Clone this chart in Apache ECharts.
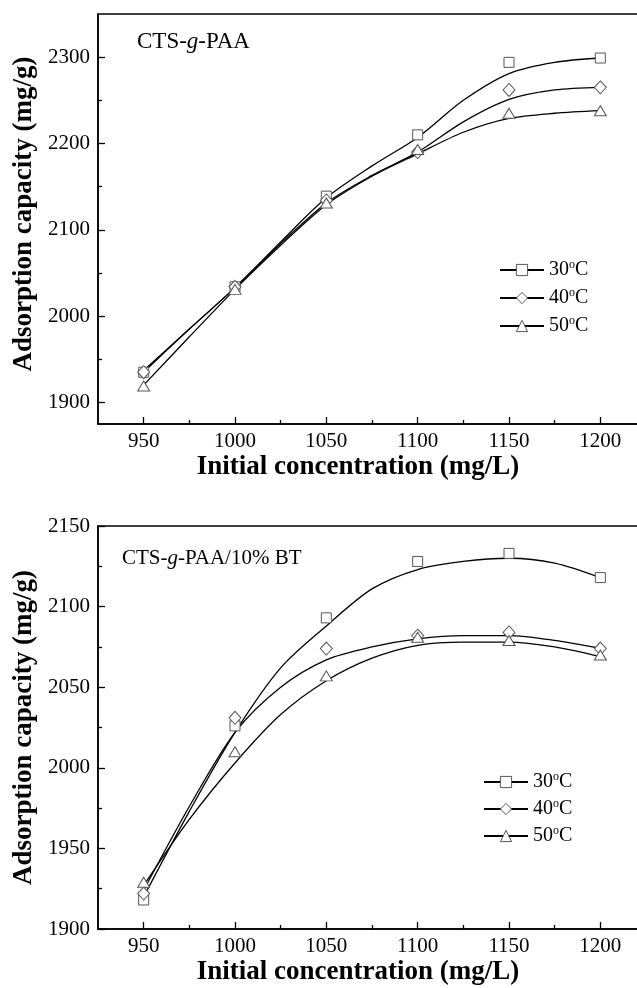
<!DOCTYPE html>
<html>
<head>
<meta charset="utf-8">
<script src="https://cdn.jsdelivr.net/npm/echarts@6/dist/echarts.min.js"></script>
<style>html,body{margin:0;padding:0;background:#fff}#c{width:637px;height:988px}</style>
</head>
<body>
<div id="c"></div>
<script>
// ---- data ----
const xCats = [950, 1000, 1050, 1100, 1150, 1200];           // measured concentrations
const fitX = [950, 975, 1000, 1025, 1050, 1075, 1100, 1125, 1150, 1175, 1200]; // where fitted curves were read
const xMajorTicks = [950, 1000, 1050, 1100, 1150, 1200];
const xMinorTicks = [975, 1025, 1075, 1125, 1175];
const topYLabels = [1900, 2000, 2100, 2200, 2300];
const topYMinor = [1950, 2050, 2150, 2250];
const temps = ['30', '40', '50'];

// top panel: CTS-g-PAA (measured points)
const topPts30 = [1935, 2034, 2139, 2210, 2294, 2299];
const topPts40 = [1935, 2034, 2134, 2190, 2262, 2265];
const topPts50 = [1919, 2031, 2131, 2193, 2235, 2238];
// top panel fitted curves, read at fitX
const topFit30 = [1937, 1985, 2033, 2086, 2137, 2174, 2207, 2250, 2281, 2294, 2299];
const topFit40 = [1935, 1985, 2033, 2084, 2131, 2163, 2190, 2225, 2251, 2262, 2265];
const topFit50 = [1920, 1976, 2031, 2082, 2129, 2162, 2188, 2213, 2229, 2235, 2238];

// bottom panel: CTS-g-PAA/10% BT (measured points)
const botPts30 = [1918, 2026, 2093, 2128, 2133, 2118];
const botPts40 = [1922, 2031, 2074, 2082, 2084, 2074];
const botPts50 = [1929, 2010, 2057, 2081, 2079, 2070];
// bottom panel fitted curves, read at fitX
const botFit30 = [1920, 1973, 2022, 2062, 2088, 2111, 2123, 2128, 2130, 2127, 2118];
const botFit40 = [1924, 1976, 2022, 2050, 2067, 2075, 2080, 2082, 2082, 2079, 2074];
const botFit50 = [1927, 1968, 2003, 2033, 2054, 2068, 2076, 2078, 2078, 2075, 2069];

// ---- chart ----
const FONT = '"Liberation Serif", "Times New Roman", serif';
const symbols = {'30': 'rect', '40': 'diamond', '50': 'triangle'};
const symSizes = {'30': [10, 10], '40': [12, 13], '50': [12, 10]};
const fmt = v => String(v);

function zip(xs, ys) { return xs.map((x, i) => [x, ys[i]]); }

function xAxes(grid) {
  return [
    {
      type: 'value', gridIndex: grid, position: 'bottom', min: 925, max: 1225,
      name: 'Initial concentration (mg/L)', nameLocation: 'middle', nameGap: 30,
      nameTextStyle: {fontFamily: FONT, fontWeight: 'bold', fontSize: 27, color: '#000', padding: [0, 28, 0, 0]},
      axisLine: {onZero: false, lineStyle: {color: '#000', width: 1.5}},
      axisTick: {inside: false, length: -7, customValues: xMajorTicks, lineStyle: {color: '#000', width: 1.3}},
      axisLabel: {customValues: xMajorTicks, formatter: fmt, fontFamily: FONT, fontSize: 21, color: '#000', margin: 7},
      splitLine: {show: false}
    },
    {
      type: 'value', gridIndex: grid, position: 'bottom', min: 925, max: 1225,
      axisLine: {show: false},
      axisTick: {inside: false, length: -4, customValues: xMinorTicks, lineStyle: {color: '#000', width: 1.3}},
      axisLabel: {show: false},
      splitLine: {show: false}
    }
  ];
}

const yNameStyle = {fontFamily: FONT, fontWeight: 'bold', fontSize: 27, color: '#000'};

const yAxis = [
  {
    type: 'value', gridIndex: 0, position: 'left', min: 1875, max: 2350,
    name: 'Adsorption capacity (mg/g)', nameLocation: 'middle', nameGap: 54, nameRotate: 90,
    nameTextStyle: Object.assign({padding: [0, 0, 0, 10]}, yNameStyle),
    axisLine: {onZero: false, lineStyle: {color: '#000', width: 1.5}},
    axisTick: {inside: false, length: -7, customValues: topYLabels, lineStyle: {color: '#000', width: 1.3}},
    axisLabel: {customValues: topYLabels, formatter: fmt, fontFamily: FONT, fontSize: 21, color: '#000', margin: 8},
    splitLine: {show: false}
  },
  {
    type: 'value', gridIndex: 0, position: 'left', min: 1875, max: 2350,
    axisLine: {show: false},
    axisTick: {inside: false, length: -4, customValues: topYMinor, lineStyle: {color: '#000', width: 1.3}},
    axisLabel: {show: false},
    splitLine: {show: false}
  },
  {
    type: 'value', gridIndex: 1, position: 'left', min: 1900, max: 2150, interval: 50,
    name: 'Adsorption capacity (mg/g)', nameLocation: 'middle', nameGap: 54, nameRotate: 90,
    nameTextStyle: yNameStyle,
    axisLine: {onZero: false, lineStyle: {color: '#000', width: 1.5}},
    axisTick: {inside: false, length: -7, lineStyle: {color: '#000', width: 1.3}},
    minorTick: {show: true, splitNumber: 2, length: -4, lineStyle: {color: '#000', width: 1.3}},
    axisLabel: {formatter: fmt, fontFamily: FONT, fontSize: 21, color: '#000', margin: 8},
    splitLine: {show: false}
  }
];

function makeSeries(xIdx, yIdx, pts, fits) {
  const out = [];
  temps.forEach((t, i) => {
    out.push({
      name: t, type: 'line', xAxisIndex: xIdx, yAxisIndex: yIdx,
      data: zip(fitX, fits[i]), smooth: 0.3, showSymbol: false,
      symbol: symbols[t], symbolSize: 10,
      lineStyle: {color: '#000', width: 1.3},
      itemStyle: {color: '#fff', borderColor: '#555', borderWidth: 1},
      z: 2, silent: true
    });
  });
  temps.forEach((t, i) => {
    out.push({
      name: t, type: 'scatter', xAxisIndex: xIdx, yAxisIndex: yIdx,
      data: zip(xCats, pts[i]),
      symbol: symbols[t], symbolSize: symSizes[t],
      itemStyle: {color: '#fff', borderColor: '#555', borderWidth: 1, opacity: 1},
      z: 3, silent: true
    });
  });
  return out;
}

const series = [].concat(
  makeSeries(0, 0, [topPts30, topPts40, topPts50], [topFit30, topFit40, topFit50]),
  makeSeries(2, 2, [botPts30, botPts40, botPts50], [botFit30, botFit40, botFit50])
);

const legendRich = {
  n: {fontFamily: FONT, fontSize: 20, color: '#000', lineHeight: 22},
  s: {fontFamily: FONT, fontSize: 12, color: '#000', lineHeight: 22, verticalAlign: 'top'}
};
function legendCfg(left, top, gap) {
  return {
    orient: 'vertical', left: left, top: top, itemWidth: 44, itemHeight: 14, itemGap: gap,
    data: temps, selectedMode: false,
    itemStyle: {color: '#fff', borderColor: '#555', borderWidth: 1},
    formatter: n => '{n|' + n + '}{s|o}{n|C}',
    textStyle: {rich: legendRich}
  };
}

const option = {
  backgroundColor: '#fff',
  animation: false,
  grid: [
    {left: 98, top: 14, width: 548, height: 410, show: true, borderColor: '#000', borderWidth: 1.5, outerBoundsMode: 'none'},
    {left: 98, top: 526, width: 548, height: 403, show: true, borderColor: '#000', borderWidth: 1.5, outerBoundsMode: 'none'}
  ],
  xAxis: [].concat(xAxes(0), xAxes(1)),
  yAxis: yAxis,
  legend: [legendCfg(494, 254, 7), legendCfg(478, 766, 6)],
  graphic: [
    {type: 'text', left: 137, top: 30, style: {text: '{a|CTS-}{i|g}{a|-PAA}', rich: {
      a: {fontFamily: FONT, fontSize: 23, fill: '#000'},
      i: {fontFamily: FONT, fontSize: 23, fontStyle: 'italic', fill: '#000'}}}},
    {type: 'text', left: 122, top: 548, style: {text: '{a|CTS-}{i|g}{a|-PAA/10% BT}', rich: {
      a: {fontFamily: FONT, fontSize: 21, fill: '#000'},
      i: {fontFamily: FONT, fontSize: 21, fontStyle: 'italic', fill: '#000'}}}}
  ],
  series: series
};

const chart = echarts.init(document.getElementById('c'), null, {renderer: 'canvas'});
chart.setOption(option);
</script>
</body>
</html>
